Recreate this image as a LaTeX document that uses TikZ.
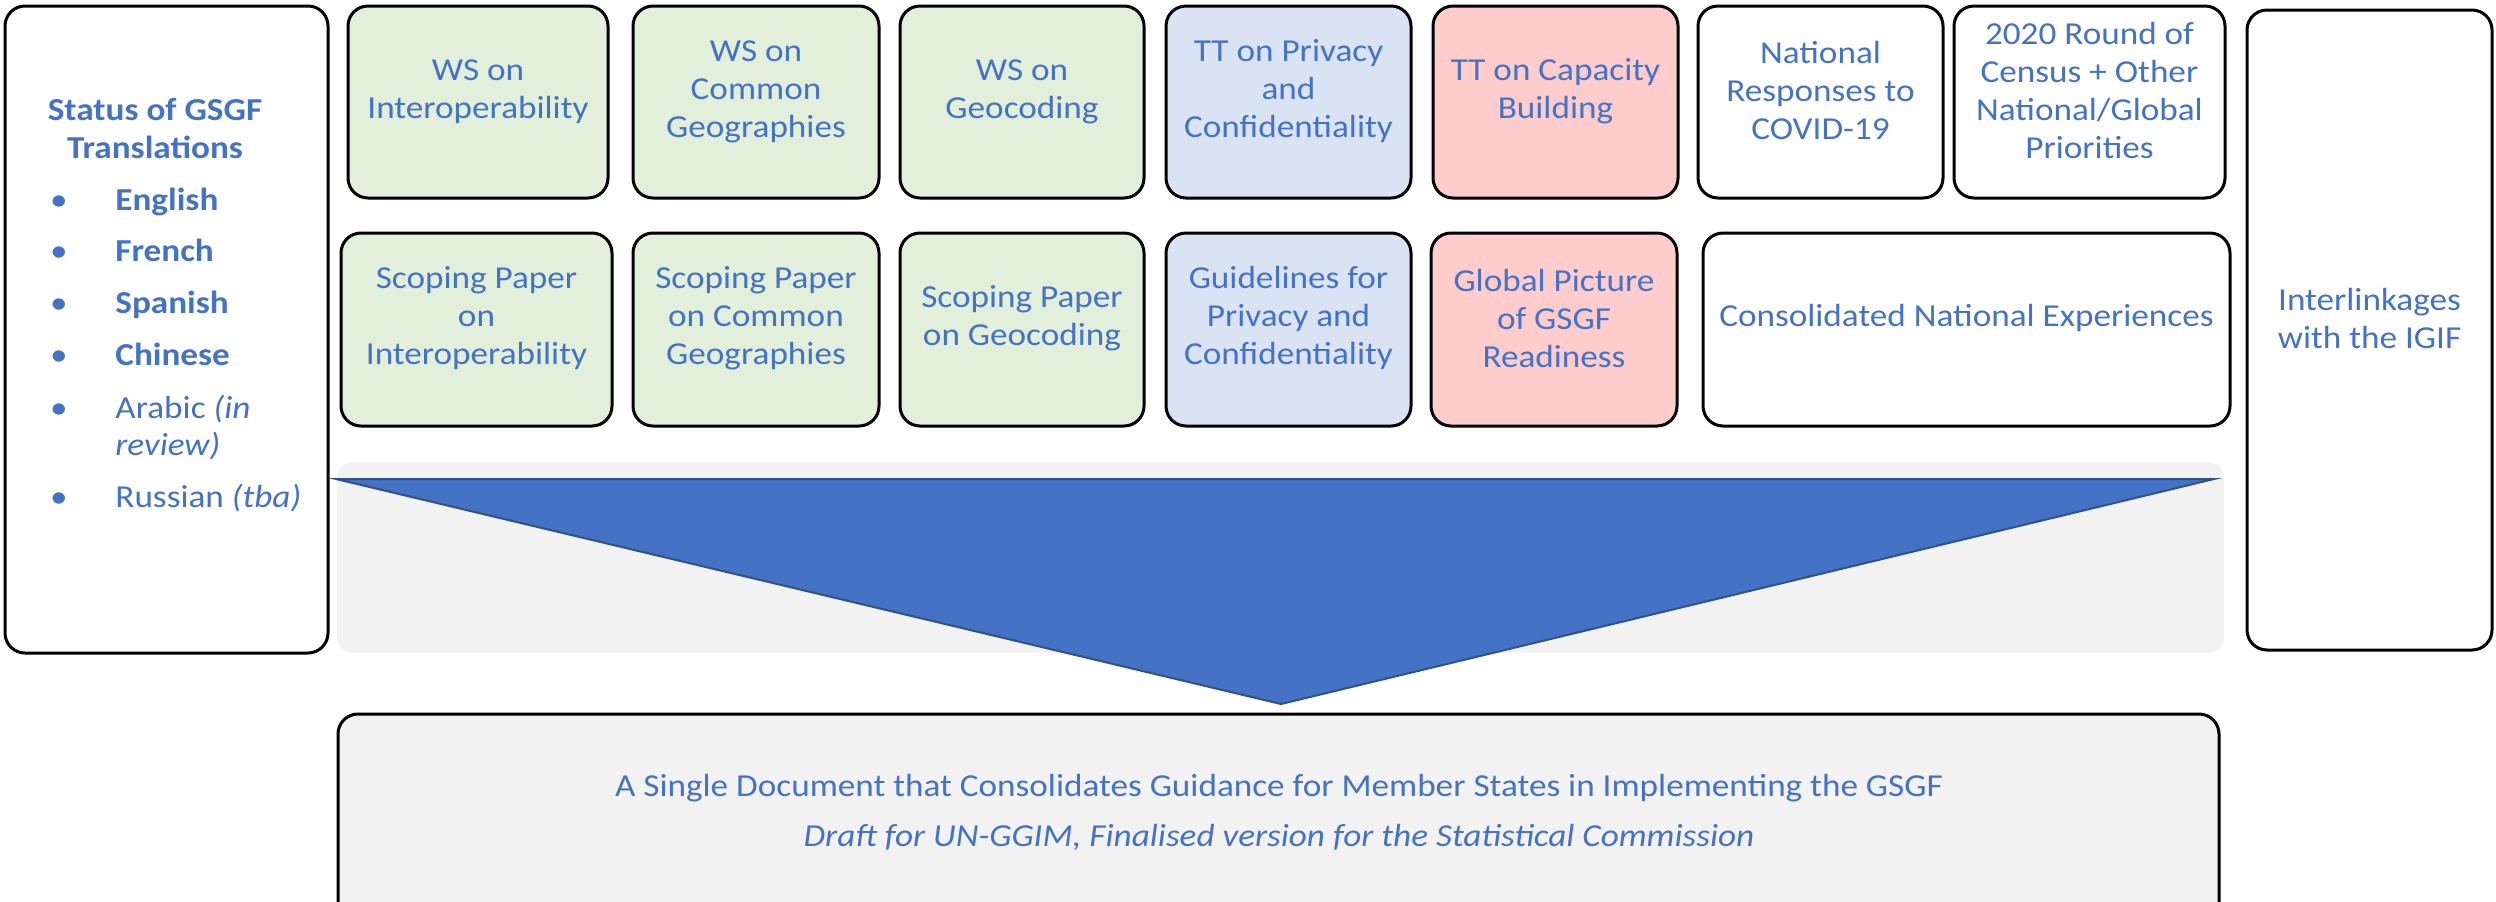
\documentclass[tikz,border=0pt]{standalone}
\usepackage{fontspec}
\setmainfont[FakeStretch=1.1]{Carlito}
\usetikzlibrary{fit}

\definecolor{txtblue}{HTML}{4472C4}
\definecolor{arrowline}{HTML}{2F528F}
\definecolor{wsgreen}{HTML}{E2EFDA}
\definecolor{ttblue}{HTML}{DAE3F3}
\definecolor{ttpink}{HTML}{FFCCCC}
\definecolor{bandgrey}{HTML}{F2F2F2}

\tikzset{
	item/.style={draw=black, line width=1.5pt, rounded corners=10pt, inner sep=0pt, align=center, text=txtblue, font=\fontsize{16}{19}\selectfont},
	lang/.style={anchor=base west, inner sep=0pt, text=txtblue, font=\fontsize{16}{19}\selectfont},
	dot/.style={anchor=base, inner sep=0pt, text=txtblue, font=\fontsize{16}{19}\selectfont}
}

\begin{document}
\begin{tikzpicture}[x=0.5pt, y=-0.5pt]
		\useasboundingbox (0,0) rectangle (2496,901);
		\clip (0,0) rectangle (2496,901);

		\node[item, fit={(5,6) (328,653)}] (status) {};
		\node[text=txtblue, align=center, font=\fontsize{16}{19}\selectfont\bfseries] (head) at (155,128) {Status of GSGF\\Translations};
		\node[dot] (d1) at (59,210) {•};
		\node[dot] (d2) at (59,261) {•};
		\node[dot] (d3) at (59,313) {•};
		\node[dot] (d4) at (59,365) {•};
		\node[dot] (d5) at (59,418) {•};
		\node[dot] (d6) at (59,507) {•};
		\node[lang] (en) at (115,210) {\textbf{English}};
		\node[lang] (fr) at (115,261) {\textbf{French}};
		\node[lang] (es) at (115,313) {\textbf{Spanish}};
		\node[lang] (zh) at (115,365) {\textbf{Chinese}};
		\node[lang] (ar) at (115,418) {Arabic \textit{(in}};
		\node[lang] (ar2) at (115,455) {\textit{review)}};
		\node[lang] (ru) at (115,507) {Russian \textit{(tba)}};

		\node[item, fill=wsgreen, fit={(348,6) (608,198)}] (wsint) {WS on\\Interoperability};
		\node[item, fill=wsgreen, fit={(633,6) (879,198)}] (wscom) {WS on\\Common\\Geographies};
		\node[item, fill=wsgreen, fit={(900,6) (1144,198)}] (wsgeo) {WS on\\Geocoding};
		\node[item, fill=ttblue, fit={(1166,6) (1411,198)}] (ttpriv) {TT on Privacy\\and\\Confidentiality};
		\node[item, fill=ttpink, fit={(1433,6) (1678,198)}] (ttcap) {TT on Capacity\\Building};
		\node[item, fit={(1698,6) (1943,198)}] (covid) {National\\Responses to\\COVID-19};
		\node[item, fit={(1954,6) (2225,198)}] (census) {2020 Round of\\Census + Other\\National/Global\\Priorities};

		\node[item, fill=wsgreen, fit={(341,233) (612,426)}] (spint) {Scoping Paper\\on\\Interoperability};
		\node[item, fill=wsgreen, fit={(633,233) (879,426)}] (spcom) {Scoping Paper\\on Common\\Geographies};
		\node[item, fill=wsgreen, fit={(900,233) (1144,426)}] (spgeo) {Scoping Paper\\on Geocoding};
		\node[item, fill=ttblue, fit={(1166,233) (1411,426)}] (guide) {Guidelines for\\Privacy and\\Confidentiality};
		\node[item, fill=ttpink, fit={(1431,233) (1677,426)}] (ready) {Global Picture\\of GSGF\\Readiness};
		\node[item, fit={(1703,233) (2230,426)}] (natexp) {Consolidated National Experiences};

		\node[item, fit={(2247,10) (2492,650)}] (igif) {Interlinkages\\with the IGIF};

		\fill[bandgrey, rounded corners=8pt] (337,462) rectangle (2224,653);
		\draw[arrowline, fill=txtblue, line width=1pt] (336,479) -- (2214,479) -- (1281,704) -- cycle;

		\node[item, fill=bandgrey, fit={(338,714) (2219,960)}] (goalbox) {};
		\node[text=txtblue, align=center, font=\fontsize{16}{19}\selectfont] (goal) at (1279,812) {A Single Document that Consolidates Guidance for Member States in Implementing the GSGF\\[6pt]\textit{Draft for UN-GGIM, Finalised version for the Statistical Commission}};
\end{tikzpicture}
\end{document}
